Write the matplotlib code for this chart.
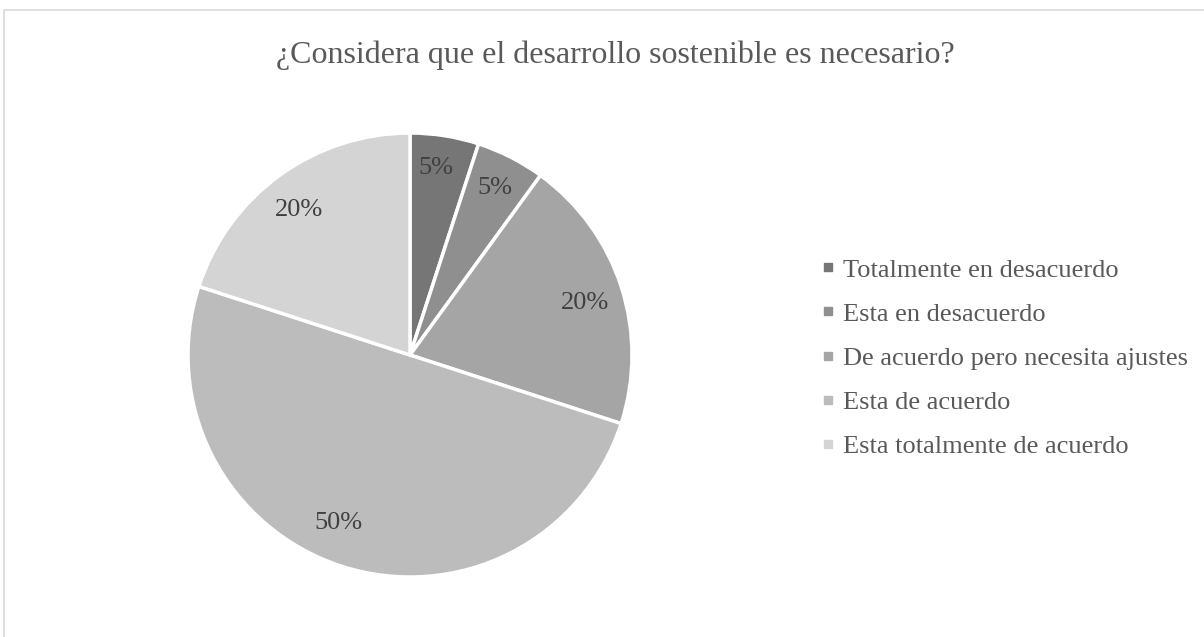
import matplotlib
matplotlib.use("Agg")
import matplotlib.pyplot as plt
from matplotlib.lines import Line2D
from matplotlib.patches import Rectangle
import numpy as np

plt.rcParams['font.family'] = ['Liberation Serif', 'DejaVu Serif']

title = "¿Considera que el desarrollo sostenible es necesario?"
categories = ["Totalmente en desacuerdo", "Esta en desacuerdo",
              "De acuerdo pero necesita ajustes", "Esta de acuerdo",
              "Esta totalmente de acuerdo"]
values = [5, 5, 20, 50, 20]
colors = ["#767676", "#8f8f8f", "#a5a5a5", "#bcbcbc", "#d4d4d4"]
label_dist = [0.85, 0.845, 0.82, 0.82, 0.82]
label_angle_shift = [1.0, 0.0, -1.5, -5.0, 1.4]
text_color = "#595959"
label_color = "#404040"

W, H = 1204, 637
fig = plt.figure(figsize=(W / 100, H / 100), dpi=100)
fig.patches.append(Rectangle((4 / W, -0.1), 1.2, (H - 10) / H + 0.1,
                             transform=fig.transFigure, fill=False,
                             edgecolor="#d9d9d9", linewidth=1.2))

cx, cy, r = 410, 355, 222
ax = fig.add_axes([(cx - r) / W, (H - cy - r) / H, 2 * r / W, 2 * r / H])
wedges, texts = ax.pie(values, colors=colors, startangle=90, counterclock=False,
                       wedgeprops=dict(edgecolor="white", linewidth=2.5))
for w, v, d, s in zip(wedges, values, label_dist, label_angle_shift):
    ang = np.deg2rad((w.theta1 + w.theta2) / 2 + s)
    ax.text(d * np.cos(ang), d * np.sin(ang), f"{v}%", ha="center", va="center",
            fontsize=19, color=label_color)
ax.set_xlim(-1, 1)
ax.set_ylim(-1, 1)
ax.set_aspect("equal")
ax.axis("off")

fig.text(615 / W, 1 - 55 / H, title, ha="center", va="center", fontsize=23,
         color=text_color)

handles = [Line2D([], [], marker="s", linestyle="none", markersize=6,
                  markerfacecolor=c, markeredgecolor=c) for c in colors]
leg = fig.legend(handles, categories, loc="center left",
                 bbox_to_anchor=(821 / W, 1 - 358 / H), frameon=False,
                 fontsize=19, labelcolor=text_color, handlelength=0.5,
                 handletextpad=0.35, labelspacing=0.78, borderaxespad=0,
                 borderpad=0)

fig.savefig("out.png", dpi=100)
